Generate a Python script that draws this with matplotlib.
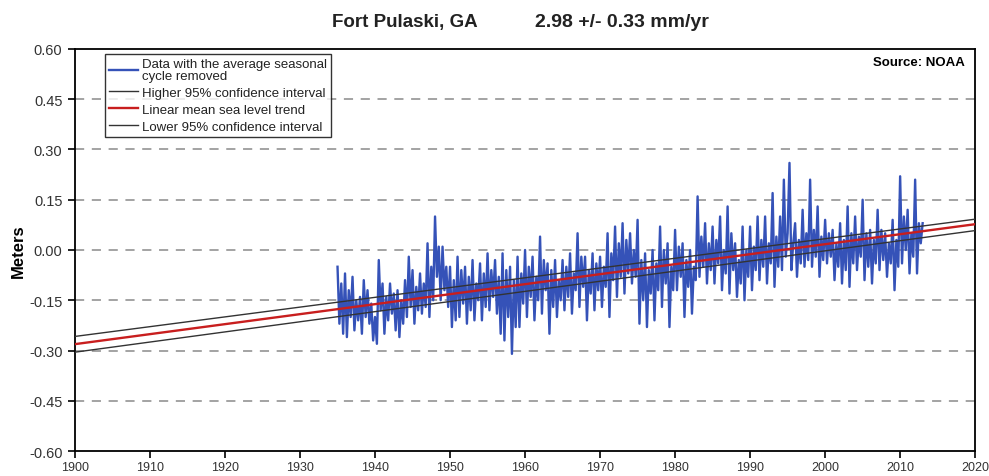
import matplotlib
matplotlib.use("Agg")
import matplotlib.pyplot as plt
import numpy as np

plt.rcParams['font.family'] = ['Liberation Sans', 'DejaVu Sans']

# monthly mean sea level, seasonal cycle removed (quarterly)
start_year = 1935.0
step = 0.25
sea_level = [
    -0.05, -0.22, -0.10, -0.25,   # 1935
    -0.07, -0.26, -0.12, -0.20,
    -0.08, -0.24, -0.15, -0.21,
    -0.14, -0.25, -0.09, -0.20,
    -0.12, -0.22, -0.16, -0.27,
    -0.20, -0.28, -0.03, -0.18,   # 1940
    -0.10, -0.25, -0.14, -0.21,
    -0.10, -0.19, -0.13, -0.24,
    -0.12, -0.26, -0.15, -0.22,
    -0.09, -0.20, -0.02, -0.17,
    -0.06, -0.22, -0.11, -0.18,   # 1945
    -0.07, -0.19, -0.10, -0.17,
    0.02, -0.20, -0.05, -0.15,
    0.10, -0.08, 0.01, -0.15,
    0.01, -0.12, -0.05, -0.17,
    -0.05, -0.23, -0.09, -0.21,   # 1950
    -0.02, -0.20, -0.06, -0.16,
    -0.05, -0.22, -0.08, -0.18,
    -0.03, -0.21, -0.10, -0.15,
    -0.04, -0.21, -0.07, -0.17,
    -0.01, -0.18, -0.06, -0.14,   # 1955
    -0.03, -0.19, -0.08, -0.25,
    -0.01, -0.27, -0.06, -0.20,
    -0.05, -0.31, -0.09, -0.23,
    -0.02, -0.23, -0.07, -0.16,
    0.00, -0.20, -0.05, -0.14,    # 1960
    -0.02, -0.21, -0.08, -0.15,
    0.04, -0.19, -0.03, -0.12,
    -0.04, -0.25, -0.06, -0.17,
    -0.03, -0.20, -0.09, -0.15,
    -0.03, -0.18, -0.05, -0.14,   # 1965
    -0.01, -0.19, -0.07, -0.12,
    0.05, -0.17, -0.02, -0.11,
    -0.02, -0.21, -0.06, -0.13,
    -0.01, -0.18, -0.04, -0.12,
    -0.02, -0.17, -0.05, -0.11,   # 1970
    0.05, -0.20, -0.01, -0.09,
    0.07, -0.14, 0.02, -0.08,
    0.08, -0.13, 0.03, -0.07,
    0.05, -0.10, 0.00, -0.08,
    0.09, -0.22, -0.03, -0.15,    # 1975
    -0.01, -0.23, -0.06, -0.13,
    0.00, -0.21, -0.04, -0.12,
    0.07, -0.17, 0.00, -0.10,
    0.02, -0.23, -0.05, -0.12,
    0.06, -0.12, 0.01, -0.08,     # 1980
    0.02, -0.20, -0.03, -0.11,
    0.00, -0.19, -0.05, -0.09,
    0.16, -0.08, 0.04, -0.05,
    0.08, -0.10, 0.02, -0.06,
    0.07, -0.10, 0.03, -0.04,     # 1985
    0.10, -0.12, 0.00, -0.07,
    0.13, -0.13, 0.05, -0.06,
    0.02, -0.14, -0.03, -0.10,
    0.07, -0.15, 0.00, -0.08,
    0.07, -0.12, 0.01, -0.06,     # 1990
    0.10, -0.09, 0.03, -0.05,
    0.10, -0.10, 0.02, -0.04,
    0.17, -0.11, 0.04, -0.05,
    0.10, -0.06, 0.21, -0.02,
    0.05, 0.26, -0.06, 0.02,      # 1995
    0.08, -0.08, 0.03, -0.04,
    0.12, -0.05, 0.05, -0.03,
    0.21, -0.05, 0.06, -0.02,
    0.13, -0.08, 0.04, -0.03,
    0.09, -0.04, 0.05, -0.02,     # 2000
    0.06, -0.09, 0.02, -0.05,
    0.08, -0.10, 0.03, -0.06,
    0.13, -0.11, 0.05, -0.04,
    0.10, -0.06, 0.04, -0.02,
    0.15, -0.09, 0.05, -0.05,     # 2005
    0.06, -0.10, 0.03, -0.04,
    0.12, -0.06, 0.06, -0.03,
    0.05, -0.08, 0.02, -0.04,
    0.09, -0.12, 0.03, -0.05,
    0.22, -0.04, 0.10, 0.00,      # 2010
    0.12, -0.07, 0.05, -0.02,
    0.21, -0.07, 0.08, 0.02,
    0.08,                         # 2013
]
years = start_year + step * np.arange(len(sea_level))

# trend and 95% confidence lines (end points at 1900 and 2020)
trend_years = [1900, 2020]
trend = [-0.281, 0.077]
upper_ci = [-0.258, 0.092]
lower_ci = [-0.305, 0.058]

x_ticks = list(range(1900, 2021, 10))
y_ticks = [-0.60, -0.45, -0.30, -0.15, 0.00, 0.15, 0.30, 0.45, 0.60]

fig = plt.figure(figsize=(9.89, 4.77), dpi=100)
ax = fig.add_axes([0.0758, 0.0524, 0.9102, 0.8428])

for yv in y_ticks[1:-1]:
    ax.axhline(yv, color='#8a8a8a', lw=1.1, ls=(0, (6, 5)), zorder=0)

ax.plot(years, sea_level, color='#3552b8', lw=1.7,
        label='Data with the average seasonal\ncycle removed', zorder=2)
ax.plot(trend_years, upper_ci, color='#333333', lw=1.0,
        label='Higher 95% confidence interval', zorder=3)
ax.plot(trend_years, trend, color='#c81e1e', lw=1.7,
        label='Linear mean sea level trend', zorder=4)
ax.plot(trend_years, lower_ci, color='#333333', lw=1.0,
        label='Lower 95% confidence interval', zorder=3)

ax.set_xlim(1900, 2020)
ax.set_ylim(-0.60, 0.60)
ax.set_xticks(x_ticks)
ax.set_yticks(y_ticks)
ax.set_yticklabels(['%.2f' % v for v in y_ticks])
ax.tick_params(direction='out', length=5, width=1.2,
               colors='black', labelcolor='#333333')
ax.tick_params(axis='y', labelsize=10.5, pad=4)
ax.tick_params(axis='x', labelsize=9, pad=2)
for s in ax.spines.values():
    s.set_linewidth(1.3)

ax.set_ylabel('Meters', fontsize=12, fontweight='bold', labelpad=2)

leg = ax.legend(loc='upper left', bbox_to_anchor=(0.033, 0.988), fontsize=9.5,
                frameon=True, fancybox=False, edgecolor='black',
                handlelength=2.2, handletextpad=0.25, borderpad=0.35,
                labelspacing=0.35, borderaxespad=0)
leg.get_frame().set_linewidth(1.0)
for t in leg.get_texts():
    t.set_linespacing(0.95)
    t.set_color('#222222')

ax.text(0.989, 0.982, 'Source: NOAA', transform=ax.transAxes, ha='right',
        va='top', fontsize=9.5, fontweight='bold')

fig.text(0.409, 0.953, 'Fort Pulaski, GA', ha='center', va='center',
         fontsize=13.5, fontweight='bold', color='#222222')
fig.text(0.629, 0.953, '2.98 +/- 0.33 mm/yr', ha='center', va='center',
         fontsize=14, fontweight='bold', color='#222222')

fig.savefig('out.png', dpi=100)
